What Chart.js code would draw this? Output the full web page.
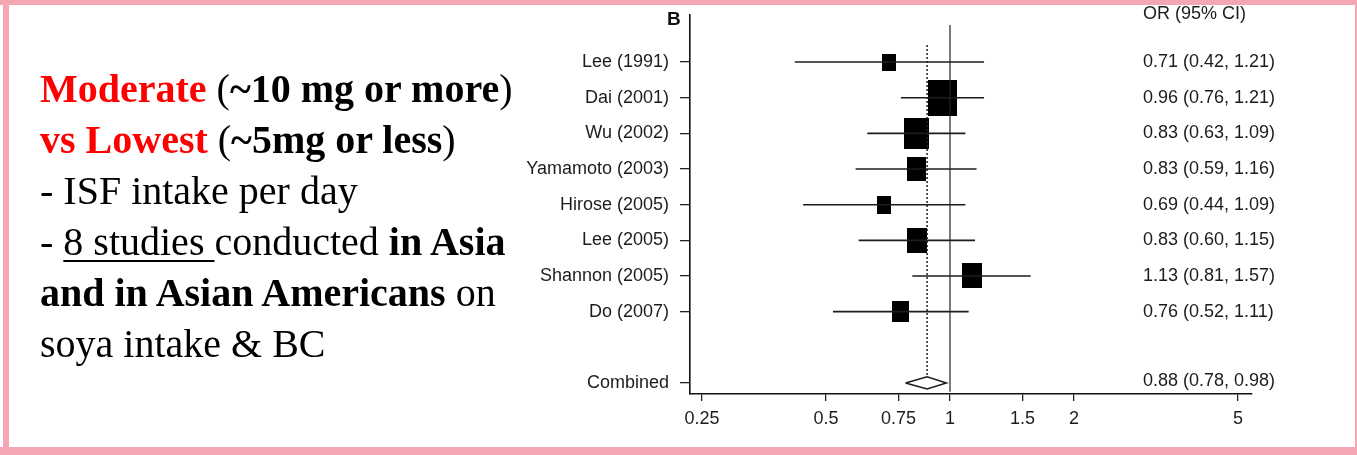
<!DOCTYPE html>
<html>
<head>
<meta charset="utf-8">
<script src="https://cdn.jsdelivr.net/npm/chart.js@4.4.1/dist/chart.umd.min.js"></script>
<style>
    html, body {
        margin: 0;
        padding: 0;
        background: #fff;
    }
    #page {
        position: relative;
        width: 1357px;
        height: 455px;
        overflow: hidden;
        background: #fff;
    }
    .edge {
        position: absolute;
        background: #f4a7b3;
    }
    #notes {
        position: absolute;
        left: 40px;
        top: 63px;
        font-family: "Liberation Serif", "Times New Roman", serif;
        font-size: 40px;
        line-height: 51px;
        color: #000;
        white-space: nowrap;
    }
    #notes .red { color: #ff0000; }
    #notes b { font-weight: bold; }
    #notes u {
        text-decoration: underline;
        text-decoration-thickness: 2px;
        text-underline-offset: 5px;
    }
    #panel {
        position: absolute;
        left: 667px;
        top: 8px;
        font: bold 19px "Liberation Sans", Arial, sans-serif;
        color: #111;
    }
    #chart {
        position: absolute;
        left: 0;
        top: 0;
    }
</style>
</head>
<body>
<div id="page">
    <canvas id="chart" width="1357" height="455"></canvas>
    <div class="edge" style="left:0;top:0;width:1357px;height:5px"></div>
    <div class="edge" style="left:3px;top:0;width:6px;height:455px"></div>
    <div class="edge" style="left:0;top:447px;width:1357px;height:8px"></div>
    <div class="edge" style="left:1355px;top:0;width:2px;height:455px"></div>
    <div id="notes">
        <div><b class="red">Moderate</b> (<b>~10 mg or more</b>)</div>
        <div><b class="red">vs Lowest</b> (<b>~5mg or less</b>)</div>
        <div>- ISF intake per day</div>
        <div>- <u>8 studies </u>conducted <b>in Asia</b></div>
        <div><b>and in Asian Americans</b> on</div>
        <div>soya intake &amp; BC</div>
    </div>
    <div id="panel">B</div>
</div>
<script>
// studies, odds ratios and 95% CI
const studies = ['Lee (1991)', 'Dai (2001)', 'Wu (2002)', 'Yamamoto (2003)', 'Hirose (2005)', 'Lee (2005)', 'Shannon (2005)', 'Do (2007)'];
const orValues = [0.71, 0.96, 0.83, 0.83, 0.69, 0.83, 1.13, 0.76];
const ciLow = [0.42, 0.76, 0.63, 0.59, 0.44, 0.60, 0.81, 0.52];
const ciHigh = [1.21, 1.21, 1.09, 1.16, 1.09, 1.15, 1.57, 1.11];
// relative study weights (%)
const weights = [5.8, 25.2, 18.8, 11.5, 6.1, 11.7, 12.1, 8.7];

const combinedLabel = 'Combined';
const combinedOr = 0.88;
const combinedLow = 0.78;
const combinedHigh = 0.98;

const xTicks = [0.25, 0.5, 0.75, 1, 1.5, 2, 5];
const headerText = 'OR (95% CI)';

const combinedRow = studies.length + 1;
const fontSans = '"Liberation Sans", Arial, sans-serif';
const ink = '#1c1c1c';

const fmt = (v) => v.toFixed(2);
const orText = (o, lo, hi) => `${fmt(o)} (${fmt(lo)}, ${fmt(hi)})`;

// box images sized from weights (area ~ weight, slightly taller than wide)
function makeBox(w) {
    const area = w * 41.2;
    const bw = Math.sqrt(area / 1.25);
    const bh = bw * 1.25;
    const c = document.createElement('canvas');
    c.width = Math.round(bw);
    c.height = Math.round(bh);
    const g = c.getContext('2d');
    g.fillStyle = '#000';
    g.fillRect(0, 0, c.width, c.height);
    return c;
}

const datasets = [];
const dh = 0.17;

// reference line at OR = 1
datasets.push({
    data: [{ x: 1, y: -1.04 }, { x: 1, y: combinedRow + 0.25 }],
    showLine: true,
    borderColor: '#222',
    borderWidth: 1.2,
    pointRadius: 0,
});

// dotted line at combined OR
datasets.push({
    data: [{ x: combinedOr, y: -0.48 }, { x: combinedOr, y: combinedRow - dh }],
    showLine: true,
    borderColor: '#222',
    borderWidth: 1.5,
    borderDash: [2, 2],
    pointRadius: 0,
});

// CI whiskers
studies.forEach((s, i) => {
    datasets.push({
        data: [{ x: ciLow[i], y: i }, { x: ciHigh[i], y: i }],
        showLine: true,
        borderColor: ink,
        borderWidth: 1.6,
        pointRadius: 0,
    });
});

// boxes
datasets.push({
    data: studies.map((s, i) => ({ x: orValues[i], y: i })),
    pointStyle: weights.map(makeBox),
    pointRadius: 3,
    showLine: false,
});

// combined diamond
datasets.push({
    data: [
        { x: combinedLow, y: combinedRow },
        { x: combinedOr, y: combinedRow - dh },
        { x: combinedHigh, y: combinedRow },
        { x: combinedOr, y: combinedRow + dh },
        { x: combinedLow, y: combinedRow },
    ],
    showLine: true,
    borderColor: ink,
    backgroundColor: '#fff',
    fill: false,
    borderWidth: 1.5,
    pointRadius: 0,
});

// OR (95% CI) column on the right
const orColumn = {
    id: 'orColumn',
    afterDraw(chart) {
        const ctx = chart.ctx;
        const y = chart.scales.y;
        ctx.save();
        ctx.font = `18px ${fontSans}`;
        ctx.fillStyle = ink;
        ctx.textAlign = 'left';
        ctx.textBaseline = 'middle';
        const x = 1143;
        ctx.fillText(headerText, x, y.getPixelForValue(-1.34));
        studies.forEach((s, i) => {
            ctx.fillText(orText(orValues[i], ciLow[i], ciHigh[i]), x, y.getPixelForValue(i));
        });
        ctx.fillText(orText(combinedOr, combinedLow, combinedHigh), x, y.getPixelForValue(combinedRow) - 2);
        ctx.restore();
    },
};

const rowLabels = [...studies];
rowLabels[combinedRow] = combinedLabel;

const noEdgePadding = (scale) => {
    scale.paddingTop = 0;
    scale.paddingBottom = 0;
    scale.paddingLeft = 0;
    scale.paddingRight = 0;
};

new Chart(document.getElementById('chart'), {
    type: 'scatter',
    data: { datasets },
    options: {
        responsive: false,
        animation: false,
        layout: {
            padding: { left: 510, right: 105, top: 15, bottom: 11 },
        },
        plugins: {
            legend: { display: false },
            tooltip: { enabled: false },
        },
        scales: {
            x: {
                type: 'logarithmic',
                min: 0.2338,
                max: 5.41,
                afterBuildTicks: (scale) => {
                    scale.ticks = xTicks.map((v) => ({ value: v }));
                },
                afterFit: (scale) => {
                    scale.height = 50;
                    noEdgePadding(scale);
                },
                ticks: {
                    autoSkip: false,
                    maxRotation: 0,
                    padding: 7,
                    color: ink,
                    font: { family: fontSans, size: 18 },
                    callback: (v) => String(v),
                },
                grid: {
                    drawOnChartArea: false,
                    drawTicks: true,
                    tickLength: 7,
                    color: '#222',
                    lineWidth: 1.3,
                },
                border: { display: true, color: '#111', width: 1.6 },
            },
            y: {
                type: 'linear',
                reverse: true,
                min: -1.32,
                max: 9.31,
                afterBuildTicks: (scale) => {
                    scale.ticks = rowLabels
                        .map((l, i) => (l ? { value: i } : null))
                        .filter(Boolean);
                },
                afterFit: (scale) => {
                    scale.width = 180;
                    noEdgePadding(scale);
                },
                ticks: {
                    autoSkip: false,
                    padding: 11,
                    color: ink,
                    font: { family: fontSans, size: 18 },
                    callback: (v) => rowLabels[v] || '',
                },
                grid: {
                    drawOnChartArea: false,
                    drawTicks: true,
                    tickLength: 10,
                    color: '#222',
                    lineWidth: 1.3,
                },
                border: { display: true, color: '#111', width: 1.6 },
            },
        },
    },
    plugins: [orColumn],
});
</script>
</body>
</html>
